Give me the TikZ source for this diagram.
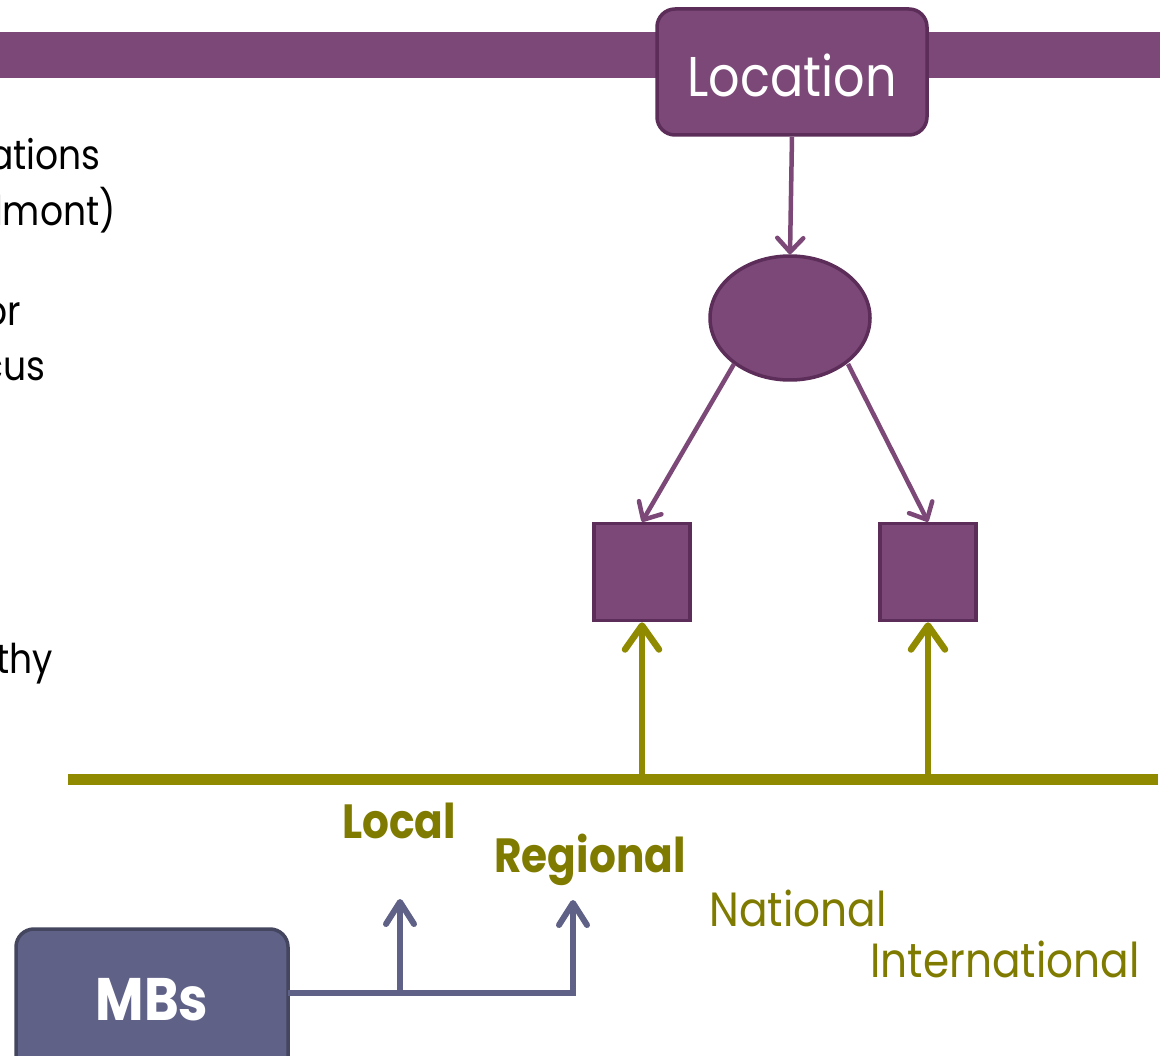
\documentclass[tikz,border=0pt]{standalone}
\usepackage{fontspec}
\setmainfont{Poppins}[FakeStretch=0.88]
\usetikzlibrary{arrows.meta,shapes.geometric}
\definecolor{plum}{HTML}{7B4877}
\definecolor{plumdark}{HTML}{5C2D58}
\definecolor{olive}{HTML}{8F8A00}
\definecolor{olivetext}{HTML}{7F7B00}
\definecolor{slate}{HTML}{5F6187}
\definecolor{slatedark}{HTML}{44455E}
\tikzset{
  plumbox/.style={draw=plumdark, line width=3.5pt, fill=plum},
  plumarrow/.style={draw=plum, line width=4.5pt, -{Straight Barb[length=14pt,width=26pt,line width=4.5pt,round]}},
  olivearrow/.style={draw=olive, line width=6.5pt, -{Straight Barb[length=24pt,width=34pt,line width=6.5pt,round]}},
  slatearrow/.style={draw=slate, line width=6pt, -{Straight Barb[length=22pt,width=28pt,line width=6pt,round]}},
  bodytext/.style={anchor=base east, inner sep=0pt, font=\fontsize{41}{44}\selectfont, text=black},
  levelbold/.style={inner sep=0pt, anchor=base, text=olivetext, font=\fontsize{48}{52}\selectfont\bfseries},
  levelreg/.style={inner sep=0pt, anchor=base, text=olivetext, font=\fontsize{48}{52}\selectfont},
}
\begin{document}
\begin{tikzpicture}[x=1pt,y=-1pt]
\useasboundingbox (0,0) rectangle (1160,1056);
\clip (0,0) rectangle (1160,1056);
% top bar
\fill[plum] (0,32) rectangle (1160,78);
% left text fragments
\node[bodytext] (t1) at (101,170) {ations};
\node[bodytext] (t2) at (116,226) {lmont)};
\node[bodytext] (t3) at (21,326) {or};
\node[bodytext] (t4) at (46,381) {cus};
\node[bodytext] (t5) at (53,673) {thy};
% location
\node[plumbox, rounded corners=18pt, minimum width=270pt, minimum height=126pt] (loc) at (792,72) {};
\node[text=white, font=\fontsize{56}{60}\selectfont, anchor=base, inner sep=0pt] (loct) at (792,97) {Location};
\node[plumbox, ellipse, minimum width=160pt, minimum height=124pt] (ell) at (790,318) {};
\node[plumbox, minimum width=96pt, minimum height=97pt, inner sep=0pt] (sq1) at (642,572) {};
\node[plumbox, minimum width=96pt, minimum height=97pt, inner sep=0pt] (sq2) at (928,572) {};
\draw[plumarrow] (loc.south) -- (ell.north);
\coordinate (e1) at (734,364);
\coordinate (e2) at (848,364);
\draw[plumarrow] (e1) -- (sq1.north);
\draw[plumarrow] (e2) -- (sq2.north);
% olive axis
\coordinate (axL) at (68,779);
\coordinate (axR) at (1158,779);
\draw[olive, line width=11pt] (axL) -- (axR);
\coordinate (b1) at (642,779);
\coordinate (b2) at (928,779);
\draw[olivearrow] (b1) -- (sq1.south);
\draw[olivearrow] (b2) -- (sq2.south);
% level labels
\node[levelbold] (local) at (399,838) {Local};
\node[levelbold] (regional) at (590,872) {Regional};
\node[levelreg] (national) at (798,926) {National};
\node[levelreg] (internat) at (1005,977) {International};
% MBs
\node[draw=slatedark, line width=3.5pt, fill=slate, rounded corners=18pt, minimum width=272pt,
      minimum height=150pt] (mbs) at (152,1004) {};
\node[text=white, font=\fontsize{60}{64}\selectfont\bfseries, anchor=base, inner sep=0pt] (mbst) at (152,1020) {MBs};
\coordinate (m0) at (288,993);
\coordinate (j1) at (400,993);
\coordinate (j2) at (573,993);
\coordinate (a1) at (400,899);
\coordinate (a2) at (573,900);
\draw[draw=slate, line width=6pt] (m0) -- (j2) -- (j2 |- 0,955);
\draw[slatearrow] (j1) -- (a1);
\draw[slatearrow] (j2) -- (a2);
\end{tikzpicture}
\end{document}
